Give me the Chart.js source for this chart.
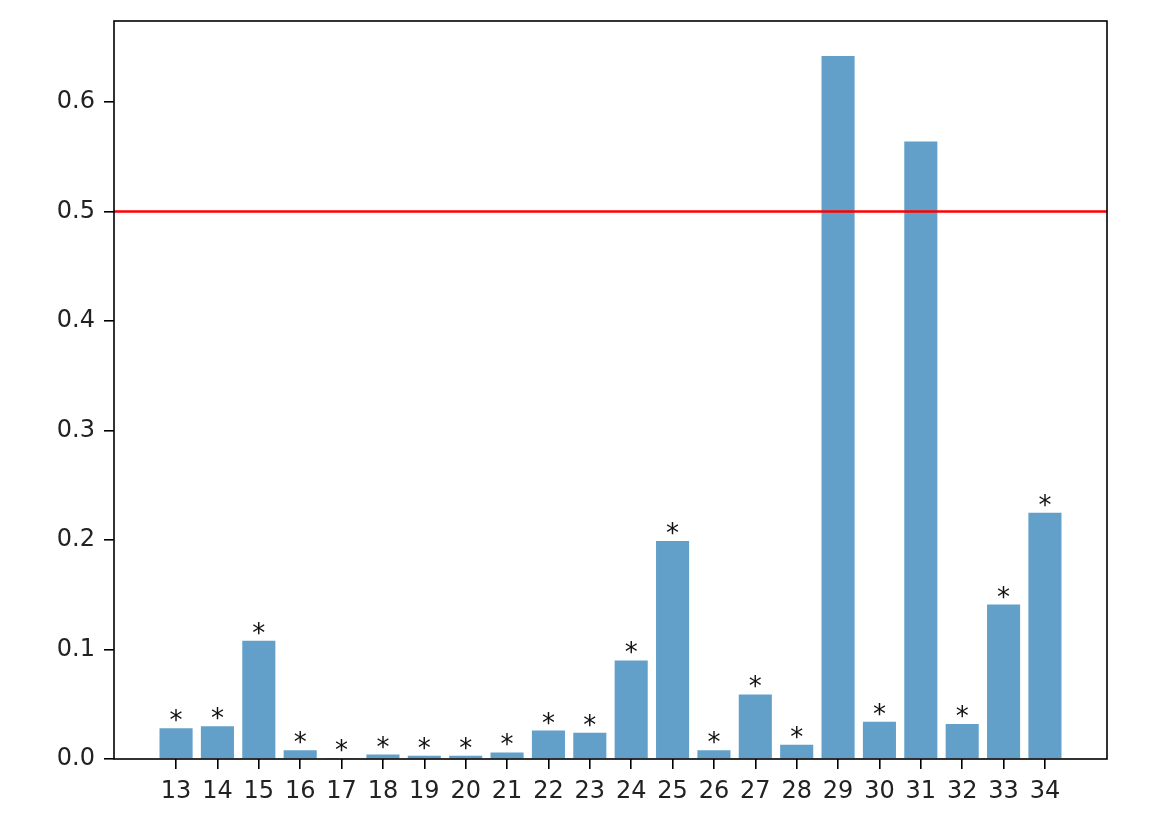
<!DOCTYPE html>
<html>
<head>
<meta charset="utf-8">
<script src="https://cdn.jsdelivr.net/npm/chart.js@4/dist/chart.umd.min.js"></script>
<style>
  html, body { margin: 0; padding: 0; background: #fff; }
  #wrap { width: 1152px; height: 818px; }
</style>
</head>
<body>
<div id="wrap"><canvas id="chart" width="1152" height="818"></canvas></div>
<script>
// Data
const categories = [13, 14, 15, 16, 17, 18, 19, 20, 21, 22, 23, 24, 25, 26, 27, 28, 29, 30, 31, 32, 33, 34];
const values = [0.028, 0.030, 0.108, 0.008, 0.001, 0.004, 0.003, 0.003, 0.006, 0.026, 0.024, 0.090,
                0.199, 0.008, 0.059, 0.013, 0.642, 0.034, 0.564, 0.032, 0.141, 0.225];
const significant = [true, true, true, true, true, true, true, true, true, true, true, true,
                     true, true, true, true, false, true, false, true, true, true];
const threshold = 0.5;
const yTicks = [0.0, 0.1, 0.2, 0.3, 0.4, 0.5, 0.6];

const FONT = 'DejaVu Sans';
const FONT_SIZE = 24;

// Frame around the plot area, threshold line and asterisks
const extras = {
    id: 'extras',
    afterDatasetsDraw(chart) {
        const { ctx, chartArea: a, scales } = chart;
        const meta = chart.getDatasetMeta(0);

        // asterisks above bars
        ctx.save();
        ctx.fillStyle = '#111';
        ctx.font = `${FONT_SIZE + 2}px "${FONT}"`;
        ctx.textAlign = 'center';
        ctx.textBaseline = 'alphabetic';
        meta.data.forEach((bar, i) => {
            if (significant[i]) ctx.fillText('*', bar.x, bar.y + 1);
        });
        ctx.restore();

        // threshold line
        const y = scales.y.getPixelForValue(threshold);
        ctx.save();
        ctx.strokeStyle = '#ff0000';
        ctx.lineWidth = 2.5;
        ctx.beginPath();
        ctx.moveTo(a.left, y);
        ctx.lineTo(a.right, y);
        ctx.stroke();
        ctx.restore();
    },
    afterDraw(chart) {
        const { ctx, chartArea: a } = chart;
        ctx.save();
        ctx.strokeStyle = '#000';
        ctx.lineWidth = 1.6;
        ctx.strokeRect(a.left, a.top, a.right - a.left, a.bottom - a.top);
        ctx.restore();
    }
};

new Chart(document.getElementById('chart'), {
    type: 'bar',
    data: {
        datasets: [{
            data: categories.map((c, i) => ({ x: c, y: values[i] })),
            backgroundColor: 'rgba(31,119,180,0.7)',
            borderWidth: 0,
            barPercentage: 0.8,
            categoryPercentage: 1.0
        }]
    },
    options: {
        responsive: false,
        animation: false,
        layout: { padding: { top: 21, right: 45, left: 0, bottom: 0 } },
        plugins: {
            legend: { display: false },
            tooltip: { enabled: false }
        },
        scales: {
            x: {
                type: 'linear',
                offset: false,
                min: 11.5,
                max: 35.5,
                afterBuildTicks(axis) {
                    axis.ticks = categories.map(v => ({ value: v }));
                },
                afterFit(axis) {
                    axis.height = 59;
                    axis.paddingLeft = 0;
                    axis.paddingRight = 0;
                },
                ticks: {
                    color: '#222',
                    font: { family: FONT, size: FONT_SIZE },
                    padding: 8,
                    maxRotation: 0,
                    autoSkip: false
                },
                grid: { offset: false, drawOnChartArea: false, drawTicks: true, tickLength: 10, color: '#000', lineWidth: 1.6 },
                border: { display: false }
            },
            y: {
                min: 0,
                max: 0.674,
                afterBuildTicks(axis) {
                    axis.ticks = yTicks.map(v => ({ value: v }));
                },
                afterFit(axis) {
                    axis.width = 114;
                    axis.paddingTop = 0;
                    axis.paddingBottom = 0;
                },
                ticks: {
                    color: '#222',
                    font: { family: FONT, size: FONT_SIZE },
                    padding: 9,
                    callback: v => v.toFixed(1)
                },
                grid: { drawOnChartArea: false, drawTicks: true, tickLength: 10, color: '#000', lineWidth: 1.6 },
                border: { display: false }
            }
        }
    },
    plugins: [extras]
});
</script>
</body>
</html>
